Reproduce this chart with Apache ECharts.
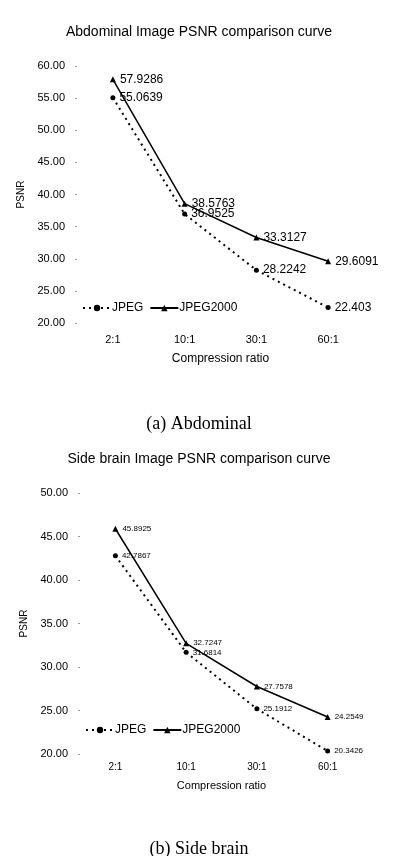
<!DOCTYPE html>
<html>
<head>
<meta charset="utf-8">
<script src="https://cdn.jsdelivr.net/npm/echarts@6/dist/echarts.min.js"></script>
<style>
  html, body { margin: 0; padding: 0; background: #fff; }
  #chart { width: 398px; height: 856px; }
</style>
</head>
<body>
<div id="chart"></div>
<script>
// compression ratios on the x axis
const categories = ['2:1', '10:1', '30:1', '60:1']

// (a) Abdominal
const abdJpeg = [55.0639, 36.9525, 28.2242, 22.403]
const abdJpeg2000 = [57.9286, 38.5763, 33.3127, 29.6091]

// (b) Side brain
const brainJpeg = [42.7867, 31.6814, 25.1912, 20.3426]
const brainJpeg2000 = [45.8925, 32.7247, 27.7578, 24.2549]

const sans = 'Liberation Sans, Arial, sans-serif'
const serif = 'Liberation Serif, Times New Roman, serif'

const chart = echarts.init(document.getElementById('chart'))

function yAxis(gridIndex, min, max, fontSize) {
  return {
    type: 'value',
    gridIndex: gridIndex,
    min: min,
    max: max,
    interval: 5,
    name: 'PSNR',
    nameLocation: 'middle',
    nameGap: 45,
    nameTextStyle: { color: '#000', fontSize: 10, fontFamily: sans },
    axisLine: { show: false },
    axisTick: { show: true, length: 2, lineStyle: { color: '#999' } },
    splitLine: { show: false },
    axisLabel: {
      color: '#000',
      fontSize: fontSize,
      fontFamily: sans,
      margin: 12,
      formatter: v => v.toFixed(2)
    }
  }
}

function xAxis(gridIndex, labelSize, nameSize, margin, nameGap) {
  return {
    type: 'category',
    gridIndex: gridIndex,
    data: categories,
    boundaryGap: true,
    name: 'Compression ratio',
    nameLocation: 'middle',
    nameGap: nameGap,
    nameTextStyle: { color: '#000', fontSize: nameSize, fontFamily: sans },
    axisLine: { show: false },
    axisTick: { show: false },
    splitLine: { show: false },
    axisLabel: { color: '#000', fontSize: labelSize, fontFamily: sans, margin: margin }
  }
}

function line(name, data, idx, dashed, labelSize) {
  return {
    name: name,
    type: 'line',
    xAxisIndex: idx,
    yAxisIndex: idx,
    data: data,
    symbol: dashed ? 'circle' : 'triangle',
    symbolSize: dashed ? 5 : 6,
    itemStyle: { color: '#000' },
    lineStyle: { color: '#000', width: dashed ? 2 : 1.5, type: dashed ? [2, 4] : 'solid' },
    label: {
      show: true,
      position: 'right',
      distance: 4,
      color: '#000',
      fontSize: labelSize,
      fontFamily: sans
    }
  }
}

const legendText = { color: '#000', fontSize: 12, fontFamily: sans, padding: [0, 0, 0, -4] }

const option = {
  animation: false,
  backgroundColor: '#fff',
  title: [
    {
      text: 'Abdominal Image PSNR comparison curve',
      left: 'center',
      top: 20,
      textStyle: { color: '#000', fontSize: 14, fontWeight: 'normal', fontFamily: sans }
    },
    {
      text: '(a) Abdominal',
      left: 'center',
      top: 410,
      textStyle: { color: '#000', fontSize: 18, fontWeight: 'normal', fontFamily: serif }
    },
    {
      text: 'Side brain Image PSNR comparison curve',
      left: 'center',
      top: 447,
      textStyle: { color: '#000', fontSize: 14, fontWeight: 'normal', fontFamily: sans }
    },
    {
      text: '(b) Side brain',
      left: 'center',
      top: 835,
      textStyle: { color: '#000', fontSize: 18, fontWeight: 'normal', fontFamily: serif }
    }
  ],
  legend: [
    {
      left: 82,
      top: 302,
      padding: 0,
      itemWidth: 28,
      itemHeight: 8,
      itemGap: 6,
      textStyle: legendText,
      data: ['JPEG', 'JPEG2000']
    },
    {
      left: 85,
      top: 724,
      padding: 0,
      itemWidth: 28,
      itemHeight: 8,
      itemGap: 6,
      textStyle: legendText,
      data: ['JPEG', 'JPEG2000']
    }
  ],
  grid: [
    { left: 77, right: 34, top: 66, height: 257 },
    { left: 80, right: 35, top: 493, height: 261 }
  ],
  xAxis: [xAxis(0, 11, 12, 11, 30), xAxis(1, 10, 11, 8, 26)],
  yAxis: [yAxis(0, 20, 60, 11), yAxis(1, 20, 50, 11)],
  series: [
    line('JPEG', abdJpeg, 0, true, 12),
    line('JPEG2000', abdJpeg2000, 0, false, 12),
    line('JPEG', brainJpeg, 1, true, 8),
    line('JPEG2000', brainJpeg2000, 1, false, 8)
  ]
}

chart.setOption(option)
</script>
</body>
</html>
